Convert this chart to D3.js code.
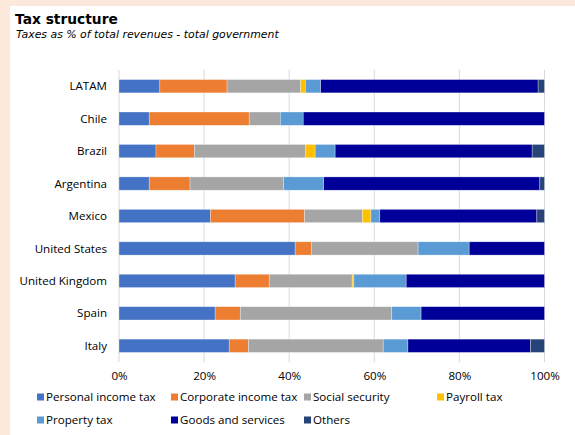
<!DOCTYPE html>
<html>
<head>
<meta charset="utf-8">
<script src="https://cdn.jsdelivr.net/npm/d3@7"></script>
<style>
  html, body { margin: 0; padding: 0; background: #FDE9DC; }
  svg { display: block; }
  text { font-family: "Open Sans", "Noto Sans", sans-serif; fill: #000; }
  .title, .subtitle { font-family: "DejaVu Sans", sans-serif; }
</style>
</head>
<body>
<svg id="chart" width="575" height="435"></svg>
<script>
// Tax structure: share of each tax type in total government revenues (%)
const countries = ["LATAM", "Chile", "Brazil", "Argentina", "Mexico",
                   "United States", "United Kingdom", "Spain", "Italy"];

const seriesNames = ["Personal income tax", "Corporate income tax", "Social security",
                     "Payroll tax", "Property tax", "Goods and services", "Others"];

const personalIncome  = [9.6, 7.1, 8.7, 7.1, 21.5, 41.4, 27.3, 22.6, 25.9];
const corporateIncome = [15.8, 23.5, 9.0, 9.6, 22.1, 3.8, 8.0, 5.9, 4.5];
const socialSecurity  = [17.3, 7.3, 26.2, 22.0, 13.6, 25.1, 19.5, 35.6, 31.7];
const payrollTax      = [1.1, 0.0, 2.2, 0.0, 2.0, 0.0, 0.4, 0.0, 0.0];
const propertyTax     = [3.6, 5.4, 4.7, 9.4, 2.1, 12.0, 12.3, 6.9, 5.8];
const goodsServices   = [51.1, 56.7, 46.3, 50.8, 36.9, 17.7, 32.5, 29.0, 28.8];
const others          = [1.5, 0.0, 2.9, 1.1, 1.8, 0.0, 0.0, 0.0, 3.3];

const tickValues = [0, 20, 40, 60, 80, 100];
const tickLabels = ["0%", "20%", "40%", "60%", "80%", "100%"];

const colors = ["#4472C4", "#ED7D31", "#A5A5A5", "#FFC000", "#5B9BD5", "#000099", "#264478"];

const seriesValues = [personalIncome, corporateIncome, socialSecurity, payrollTax,
                      propertyTax, goodsServices, others];

// Build rows for the stack layout
const rows = countries.map((c, i) => {
  const r = { country: c };
  seriesNames.forEach((s, k) => { r[s] = seriesValues[k][i]; });
  return r;
});

const svg = d3.select("#chart");

// White panel over the peach page background
svg.append("rect").attr("x", 10).attr("y", 6).attr("width", 565).attr("height", 429).attr("fill", "#fff");

svg.append("text").attr("class", "title").attr("x", 15).attr("y", 24)
  .style("font-size", "13.8px").style("font-weight", "bold")
  .text("Tax structure");
svg.append("text").attr("class", "subtitle").attr("x", 16).attr("y", 37.5)
  .style("font-size", "10.9px").style("font-style", "italic")
  .text("Taxes as % of total revenues - total government");

const x = d3.scaleLinear().domain([0, 100]).range([119, 544.5]);
const y = d3.scaleBand().domain(countries).range([70, 362]).paddingInner(0.59).paddingOuter(0.295);

// Vertical gridlines
svg.append("g").selectAll("line").data(tickValues).join("line")
  .attr("x1", d => x(d)).attr("x2", d => x(d))
  .attr("y1", 70).attr("y2", 362)
  .attr("stroke", "#D9D9D9").attr("stroke-width", 1);

const stack = d3.stack().keys(seriesNames);
const layers = stack(rows);

svg.append("g").selectAll("g").data(layers).join("g")
  .attr("fill", (d, i) => colors[i])
  .selectAll("rect").data(d => d.filter(p => p[1] - p[0] > 0)).join("rect")
  .attr("x", d => x(d[0]))
  .attr("width", d => x(d[1]) - x(d[0]))
  .attr("y", d => y(d.data.country))
  .attr("height", y.bandwidth())
  .attr("stroke", "#fff").attr("stroke-opacity", 0.5).attr("stroke-width", 0.6);

// Category axis labels
svg.append("g").selectAll("text").data(countries).join("text")
  .attr("x", 107).attr("y", d => y(d) + y.bandwidth() / 2)
  .attr("dy", "0.35em").attr("text-anchor", "end")
  .style("font-size", "11.6px")
  .text(d => d);

// Value axis labels
const xAxis = d3.axisBottom(x).tickValues(tickValues)
  .tickFormat((d, i) => tickLabels[i]).tickSize(0).tickPadding(0);
const gx = svg.append("g").attr("transform", "translate(0,372)").call(xAxis);
gx.select(".domain").remove();
gx.selectAll("text").style("font-size", "11.6px").style("font-family", null).attr("fill", "#000");

// Legend
const legendPos = [[37, 397], [171, 397], [304, 397], [437, 397], [37, 420], [171, 420], [304, 420]];
const legend = svg.append("g").selectAll("g").data(seriesNames).join("g")
  .attr("transform", (d, i) => `translate(${legendPos[i][0]},${legendPos[i][1]})`);
legend.append("rect").attr("x", 0).attr("y", -3.5).attr("width", 7).attr("height", 7)
  .attr("fill", (d, i) => colors[i]);
legend.append("text").attr("x", 9).attr("dy", "0.35em")
  .style("font-size", "11.6px").text(d => d);
</script>
</body>
</html>
